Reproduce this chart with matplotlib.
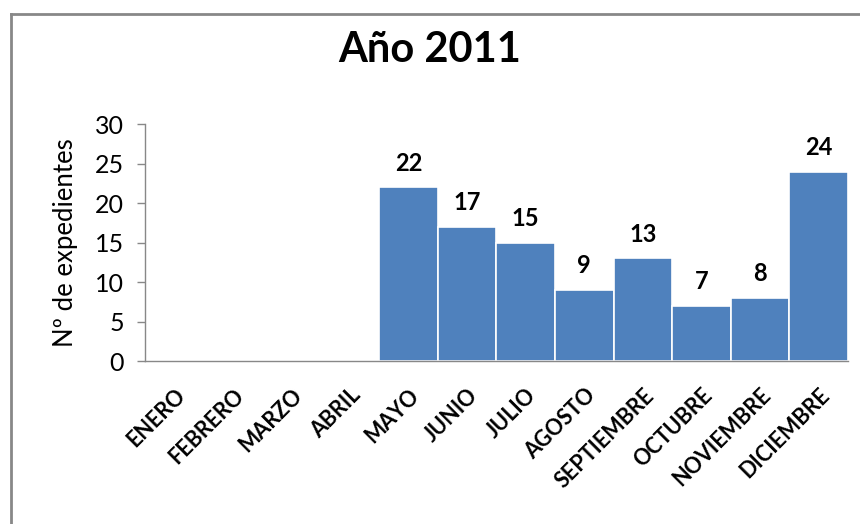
import matplotlib.pyplot as plt
from matplotlib.lines import Line2D
import numpy as np

# Datos del gráfico
meses = ["ENERO", "FEBRERO", "MARZO", "ABRIL", "MAYO", "JUNIO", "JULIO",
         "AGOSTO", "SEPTIEMBRE", "OCTUBRE", "NOVIEMBRE", "DICIEMBRE"]
expedientes = [0, 0, 0, 0, 22, 17, 15, 9, 13, 7, 8, 24]
yticks = [0, 5, 10, 15, 20, 25, 30]

plt.rcParams['font.family'] = ['Lato', 'DejaVu Sans']

fig = plt.figure(figsize=(8.6, 5.24), dpi=100)
ax = fig.add_axes([0.1686, 0.311, 0.8174, 0.452])

x = np.arange(len(meses))
barras = ax.bar(x, expedientes, width=1.0, color='#4F81BD',
                edgecolor='white', linewidth=1.2)

# Etiquetas de valor (solo meses con datos)
for xi, v in zip(x, expedientes):
    if v > 0:
        ax.annotate(str(v), (xi, v), xytext=(0, 9), textcoords='offset points',
                    ha='center', va='bottom', fontsize=17, fontweight='bold')

ax.set_xlim(-0.5, len(meses) - 0.5)
ax.set_ylim(0, 30)
ax.set_yticks(yticks)
ax.set_xticks(x)
ax.set_xticklabels(meses, rotation=45, ha='right', rotation_mode='anchor',
                   fontsize=15.5, fontweight='bold')
ax.tick_params(axis='x', length=0, pad=17)
ax.tick_params(axis='y', length=6, width=1, color='#888888', pad=9, labelsize=18)

for lado in ['top', 'right']:
    ax.spines[lado].set_visible(False)
for lado in ['left', 'bottom']:
    ax.spines[lado].set_color('#888888')
    ax.spines[lado].set_linewidth(1)

ax.set_ylabel('Nº de expedientes', fontsize=18.5, labelpad=12)

fig.text(0.5, 0.905, 'Año 2011', ha='center', va='center',
         fontsize=30, fontweight='bold')

# Marco del gráfico
fig.add_artist(Line2D([11 / 860, 11 / 860], [0, 1 - 14 / 524],
                      color='#888888', linewidth=2, transform=fig.transFigure))
fig.add_artist(Line2D([11 / 860, 1], [1 - 14 / 524, 1 - 14 / 524],
                      color='#888888', linewidth=2, transform=fig.transFigure))

fig.savefig('out.png', dpi=100)
